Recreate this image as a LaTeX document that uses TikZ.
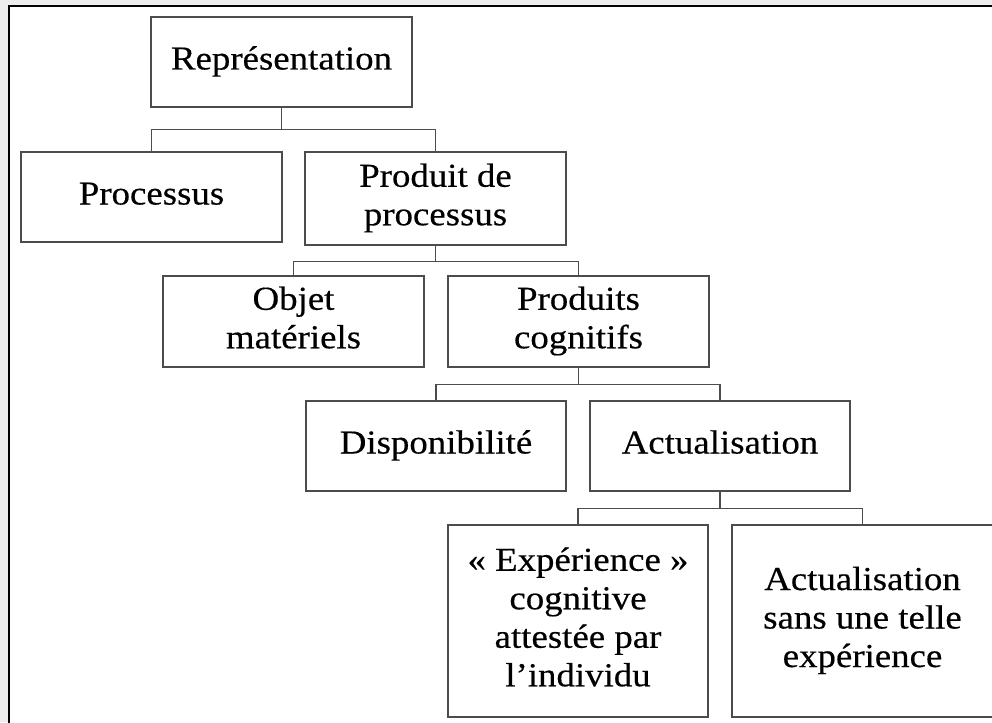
\documentclass[tikz,border=0pt]{standalone}
\usepackage{fontspec}
\setmainfont{Liberation Serif}[FakeStretch=1.1,FakeBold=0.4]
\newcommand\bxstrut{\rule[-9pt]{0pt}{33pt}}
\begin{document}
\begin{tikzpicture}[x=1pt,y=-1pt,
  box/.style={draw=black!70, line width=1.3pt, minimum width=261pt, inner sep=0pt,
    align=center, font=\fontsize{33.5}{38.5}\selectfont},
  link/.style={draw=black!70, line width=1.3pt}]
\useasboundingbox (0,0) rectangle (992,722);
\fill[black!7] (0,0) rectangle (992,722);
\fill[white] (9,7) rectangle (1000,730);
\draw[black, line width=2pt] (8.5,730) -- (8.5,6) -- (1000,6);

\node[box, minimum height=90pt] (rep) at (281.5,62) {\bxstrut Représentation};
\node[box, minimum height=90pt] (proc) at (151.5,197) {\bxstrut Processus};
\node[box, minimum height=93pt] (prod) at (435.5,198.5) {\bxstrut Produit de\\\bxstrut processus};
\node[box, minimum height=91pt] (obj) at (293.5,321.5) {\bxstrut Objet\\\bxstrut matériels};
\node[box, minimum height=91pt] (cog) at (578.5,321.5) {\bxstrut Produits\\\bxstrut cognitifs};
\node[box, minimum height=90pt, minimum width=260pt] (dispo) at (436,446) {\bxstrut Disponibilité};
\node[box, minimum height=90pt, minimum width=260pt] (actu) at (720,446) {\bxstrut Actualisation};
\node[box, minimum height=192pt, minimum width=260pt] (exp) at (578,621) {\bxstrut «~Expérience~»\\\bxstrut cognitive\\\bxstrut attestée par\\\bxstrut l’individu};
\node[box, minimum height=192pt] (sans) at (862.5,621) {\bxstrut Actualisation\\\bxstrut sans une telle\\\bxstrut expérience};

\draw[link] (rep.south) -- ++(0,22) -| (proc.north);
\draw[link] (rep.south) -- ++(0,22) -| (prod.north);
\draw[link] (prod.south) -- ++(0,16) -| (obj.north);
\draw[link] (prod.south) -- ++(0,16) -| (cog.north);
\draw[link] (cog.south) -- ++(0,17) -| (dispo.north);
\draw[link] (cog.south) -- ++(0,17) -| (actu.north);
\draw[link] (actu.south) -- ++(0,17) -| (exp.north);
\draw[link] (actu.south) -- ++(0,17) -| (sans.north);
\end{tikzpicture}
\end{document}
